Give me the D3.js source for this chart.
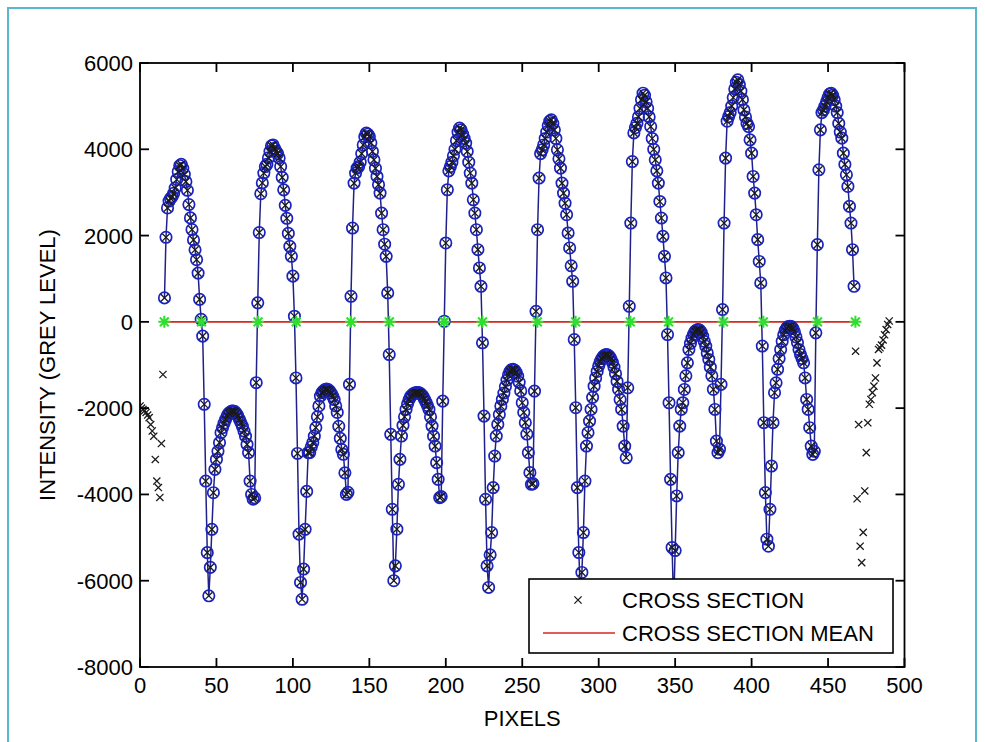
<!DOCTYPE html>
<html><head><meta charset="utf-8">
<script src="https://cdn.jsdelivr.net/npm/d3@7"></script>
<style>
html,body{margin:0;padding:0;background:#fff;}
svg{display:block;}
text{font-family:"Liberation Sans", Arial, sans-serif;fill:#000;}
</style></head><body>
<svg id="chart" width="985" height="742"></svg>
<script>
// ---- DATA (index = pixel position along the cross section) ----
const leadIn = [-1950,-2000,-2030,-2060,-2100,-2160,-2220,-2380,-2530,-2650,-3190,-3690,-3840,-4070,-2820,-1220]; // x 0-15
const arch1 = [555,1960,2640,2800,2860,2900,2980,3100,3300,3480,3620,3650,3560,3420,3250,3050,2720,2410,2140,1900,1670,1440,1130,520,60]; // x 16-40
const trough1 = [-330,-1910,-3690,-5350,-6350,-5690,-4810,-3960,-3420,-3190,-3000,-2800,-2570,-2450,-2350,-2260,-2180,-2120,-2090,-2070,-2065,-2080,-2120,-2180,-2260,-2340,-2420,-2530,-2650,-2840,-3030,-3690,-4000,-4110,-4080,-1410]; // x 41-76
const arch2 = [440,2070,2970,3220,3450,3600,3650,3800,3950,4080,4100,4020,3950,3900,3800,3600,3350,3060,2700,2400,2050,1750,1520,1060,130]; // x 77-101
const trough2 = [-1300,-3050,-4920,-6040,-6430,-5730,-4810,-3930,-3030,-3030,-2900,-2800,-2650,-2450,-2200,-1950,-1720,-1640,-1600,-1570,-1560,-1570,-1600,-1650,-1720,-1800,-1950,-2100,-2420,-2700,-2960,-3070,-3500,-4000,-3950,-1450]; // x 102-137
const arch3 = [593,2175,3216,3450,3564,3600,3700,3900,4100,4295,4374,4350,4295,4150,3950,3756,3560,3370,3180,2985,2522,2136,1800,1518,671]; // x 138-162
const trough3 = [-757,-2608,-4344,-6000,-5655,-4806,-3765,-3187,-2647,-2400,-2200,-2030,-1900,-1800,-1730,-1690,-1660,-1645,-1640,-1640,-1650,-1680,-1720,-1790,-1860,-1940,-2030,-2200,-2416,-2650,-2879,-3263,-3650,-4073,-4050,-1837]; // x 163-198
const arch4 = [14,1828,3062,3500,3600,3700,3850,4000,4200,4400,4490,4450,4350,4250,4143,3950,3700,3450,3216,2830,2522,2136,1673,1250,824]; // x 199-223
const trough4 = [-486,-2184,-4112,-5655,-6156,-5400,-4883,-3842,-3110,-2647,-2377,-2150,-1950,-1798,-1650,-1500,-1350,-1230,-1150,-1110,-1100,-1120,-1170,-1260,-1400,-1600,-1875,-2100,-2337,-2600,-3032,-3495,-3765,-3750,-1606]; // x 224-258
const arch5 = [245,2136,3333,3900,3988,4100,4250,4400,4550,4650,4682,4600,4450,4250,3988,3780,3564,3216,2985,2750,2483,2060,1713,1300,940]; // x 259-283
const trough5 = [-410,-1990,-3842,-5346,-6300,-5809,-4883,-3689,-2879,-2569,-2300,-2030,-1750,-1490,-1300,-1150,-1020,-920,-850,-800,-770,-757,-770,-800,-860,-940,-1050,-1200,-1380,-1567,-1800,-2030,-2416,-2879,-3150,-1528]; // x 284-319
const arch6 = [361,2291,3716,4380,4500,4600,4750,4950,5150,5300,5250,5100,4950,4750,4527,4250,4000,3756,3500,3216,2790,2407,1981,1518,1018]; // x 320-344
const trough6 = [-294,-1875,-3650,-5230,-6600,-5300,-4035,-3032,-2416,-2030,-1875,-1567,-1250,-950,-641,-500,-380,-290,-220,-190,-178,-190,-240,-330,-450,-564,-720,-872,-1050,-1250,-1567,-2030,-2763,-3032,-2950,-1450]; // x 345-380
const arch7 = [285,2291,3796,4650,4758,4850,5000,5200,5400,5550,5608,5500,5350,5150,4913,4750,4600,4527,4219,3911,3370,2985,2483,1905,1400,902]; // x 381-406
const trough7 = [-560,-2337,-3958,-5038,-5200,-4344,-3341,-2337,-1643,-1412,-1100,-850,-641,-450,-300,-200,-140,-110,-102,-110,-150,-230,-350,-480,-641,-760,-850,-949,-1300,-1798,-2030,-2453,-2879,-3071,-3000,-255]; // x 407-442
const arch8 = [1789,3525,4450,4850,4913,5000,5100,5200,5280,5300,5250,5150,5000,4850,4600,4400,4258,3911,3650,3409,3138,2676,2291,1673,824]; // x 443-467
const tailOut = [-680,-4100,-2380,-5200,-5580,-4880,-3920,-3030,-2340,-1910,-1800,-1640,-1490,-1300,-950,-640,-600,-540,-420,-300,-180,-60,20]; // x 468-490

const fitRange = [16, 467];               // span traced by the blue line
const zeroCrossings = [15.9,40.2,77.2,102.2,138.0,163.1,199.0,224.0,259.9,284.9,320.7,345.7,381.6,407.7,443.1,467.9];
const meanLevel = 0;
const meanRange = [15.9, 467.9];
const xTicks = [0,50,100,150,200,250,300,350,400,450,500];
const yTicks = [-8000,-6000,-4000,-2000,0,2000,4000,6000];
const legendItems = ["CROSS SECTION","CROSS SECTION MEAN"];

// ---- BUILD ----
const crossSection = [].concat(leadIn,arch1,trough1,arch2,trough2,arch3,trough3,arch4,trough4,arch5,trough5,arch6,trough6,arch7,trough7,arch8,tailOut);
const pts = crossSection.map((v,i)=>({x:i,y:v}));
const fitPts = pts.filter(d=>d.x>=fitRange[0] && d.x<=fitRange[1]);

const L=140, R=904.5, T=63, B=667;
const x = d3.scaleLinear().domain([0,500]).range([L,R]);
const y = d3.scaleLinear().domain([-8000,6000]).range([B,T]);

const svg = d3.select("#chart");
svg.append("rect").attr("width",985).attr("height",742).attr("fill","#fff");
// outer light-blue frame
svg.append("rect").attr("x",8).attr("y",8).attr("width",968).attr("height",760)
  .attr("fill","none").attr("stroke","#5ab6cf").attr("stroke-width",2);

const plot = svg.append("g");
plot.append("defs").append("clipPath").attr("id","clip")
  .append("rect").attr("x",L).attr("y",T).attr("width",R-L).attr("height",B-T);
const g = plot.append("g").attr("clip-path","url(#clip)");

// mean line
g.append("line").attr("x1",x(meanRange[0])).attr("x2",x(meanRange[1]))
  .attr("y1",y(meanLevel)).attr("y2",y(meanLevel))
  .attr("stroke","#d42a1e").attr("stroke-width",1.6);

// blue trace
g.append("path").datum(fitPts)
  .attr("d", d3.line().x(d=>x(d.x)).y(d=>y(d.y)))
  .attr("fill","none").attr("stroke","#20208a").attr("stroke-width",1.5);
g.selectAll("circle.fit").data(fitPts).join("circle").attr("class","fit")
  .attr("cx",d=>x(d.x)).attr("cy",d=>y(d.y)).attr("r",5.7)
  .attr("fill","none").attr("stroke","#1a22c0").attr("stroke-width",1.7);

// black x markers for whole cross section
const xs = 3.6;
g.selectAll("path.xm").data(pts).join("path").attr("class","xm")
  .attr("d",d=>{const cx=x(d.x), cy=y(d.y);
    return `M${cx-xs},${cy-xs}L${cx+xs},${cy+xs}M${cx-xs},${cy+xs}L${cx+xs},${cy-xs}`;})
  .attr("stroke","#1a1a1a").attr("stroke-width",1.3).attr("fill","none");

// green asterisks at zero crossings
const s=6, sd=4.4;
g.selectAll("path.star").data(zeroCrossings).join("path").attr("class","star")
  .attr("d",d=>{const cx=x(d), cy=y(meanLevel);
    return `M${cx-s},${cy}L${cx+s},${cy}M${cx},${cy-s}L${cx},${cy+s}M${cx-sd},${cy-sd}L${cx+sd},${cy+sd}M${cx-sd},${cy+sd}L${cx+sd},${cy-sd}`;})
  .attr("stroke","#2ee02e").attr("stroke-width",2).attr("fill","none");

// axes box
const tickLen = 9;
const ax = svg.append("g").attr("stroke","#000").attr("stroke-width",1.8).attr("fill","none");
ax.append("rect").attr("x",L).attr("y",T).attr("width",R-L).attr("height",B-T);
xTicks.forEach(t=>{
  ax.append("line").attr("x1",x(t)).attr("x2",x(t)).attr("y1",B).attr("y2",B-tickLen);
  ax.append("line").attr("x1",x(t)).attr("x2",x(t)).attr("y1",T).attr("y2",T+tickLen);
});
yTicks.forEach(t=>{
  ax.append("line").attr("x1",L).attr("x2",L+tickLen).attr("y1",y(t)).attr("y2",y(t));
  ax.append("line").attr("x1",R).attr("x2",R-tickLen).attr("y1",y(t)).attr("y2",y(t));
});

// tick labels
const fs = 22;
svg.selectAll("text.xt").data(xTicks).join("text").attr("class","xt")
  .attr("x",d=>x(d)).attr("y",B+26).attr("text-anchor","middle")
  .attr("font-size",fs).text(d=>d);
svg.selectAll("text.yt").data(yTicks).join("text").attr("class","yt")
  .attr("x",L-7).attr("y",d=>y(d)+8).attr("text-anchor","end")
  .attr("font-size",fs).text(d=>d);

svg.append("text").attr("x",(L+R)/2).attr("y",B+59).attr("text-anchor","middle")
  .attr("font-size",fs).text("PIXELS");
svg.append("text").attr("transform",`translate(55,${(T+B)/2}) rotate(-90)`)
  .attr("text-anchor","middle").attr("font-size",fs).text("INTENSITY (GREY LEVEL)");

// legend
const lg = svg.append("g");
lg.append("rect").attr("x",529).attr("y",579).attr("width",364).attr("height",74)
  .attr("fill","#fff").attr("stroke","#000").attr("stroke-width",1.6);
const ly = [600, 633];
lg.append("path").attr("d",`M${578-xs},${ly[0]-xs}L${578+xs},${ly[0]+xs}M${578-xs},${ly[0]+xs}L${578+xs},${ly[0]-xs}`)
  .attr("stroke","#1a1a1a").attr("stroke-width",1.3);
lg.append("line").attr("x1",543).attr("x2",615).attr("y1",ly[1]).attr("y2",ly[1])
  .attr("stroke","#d42a1e").attr("stroke-width",1.6);
lg.selectAll("text").data(legendItems).join("text")
  .attr("x",622).attr("y",(d,i)=>ly[i]+8).attr("font-size",fs).text(d=>d);
</script>
</body></html>
